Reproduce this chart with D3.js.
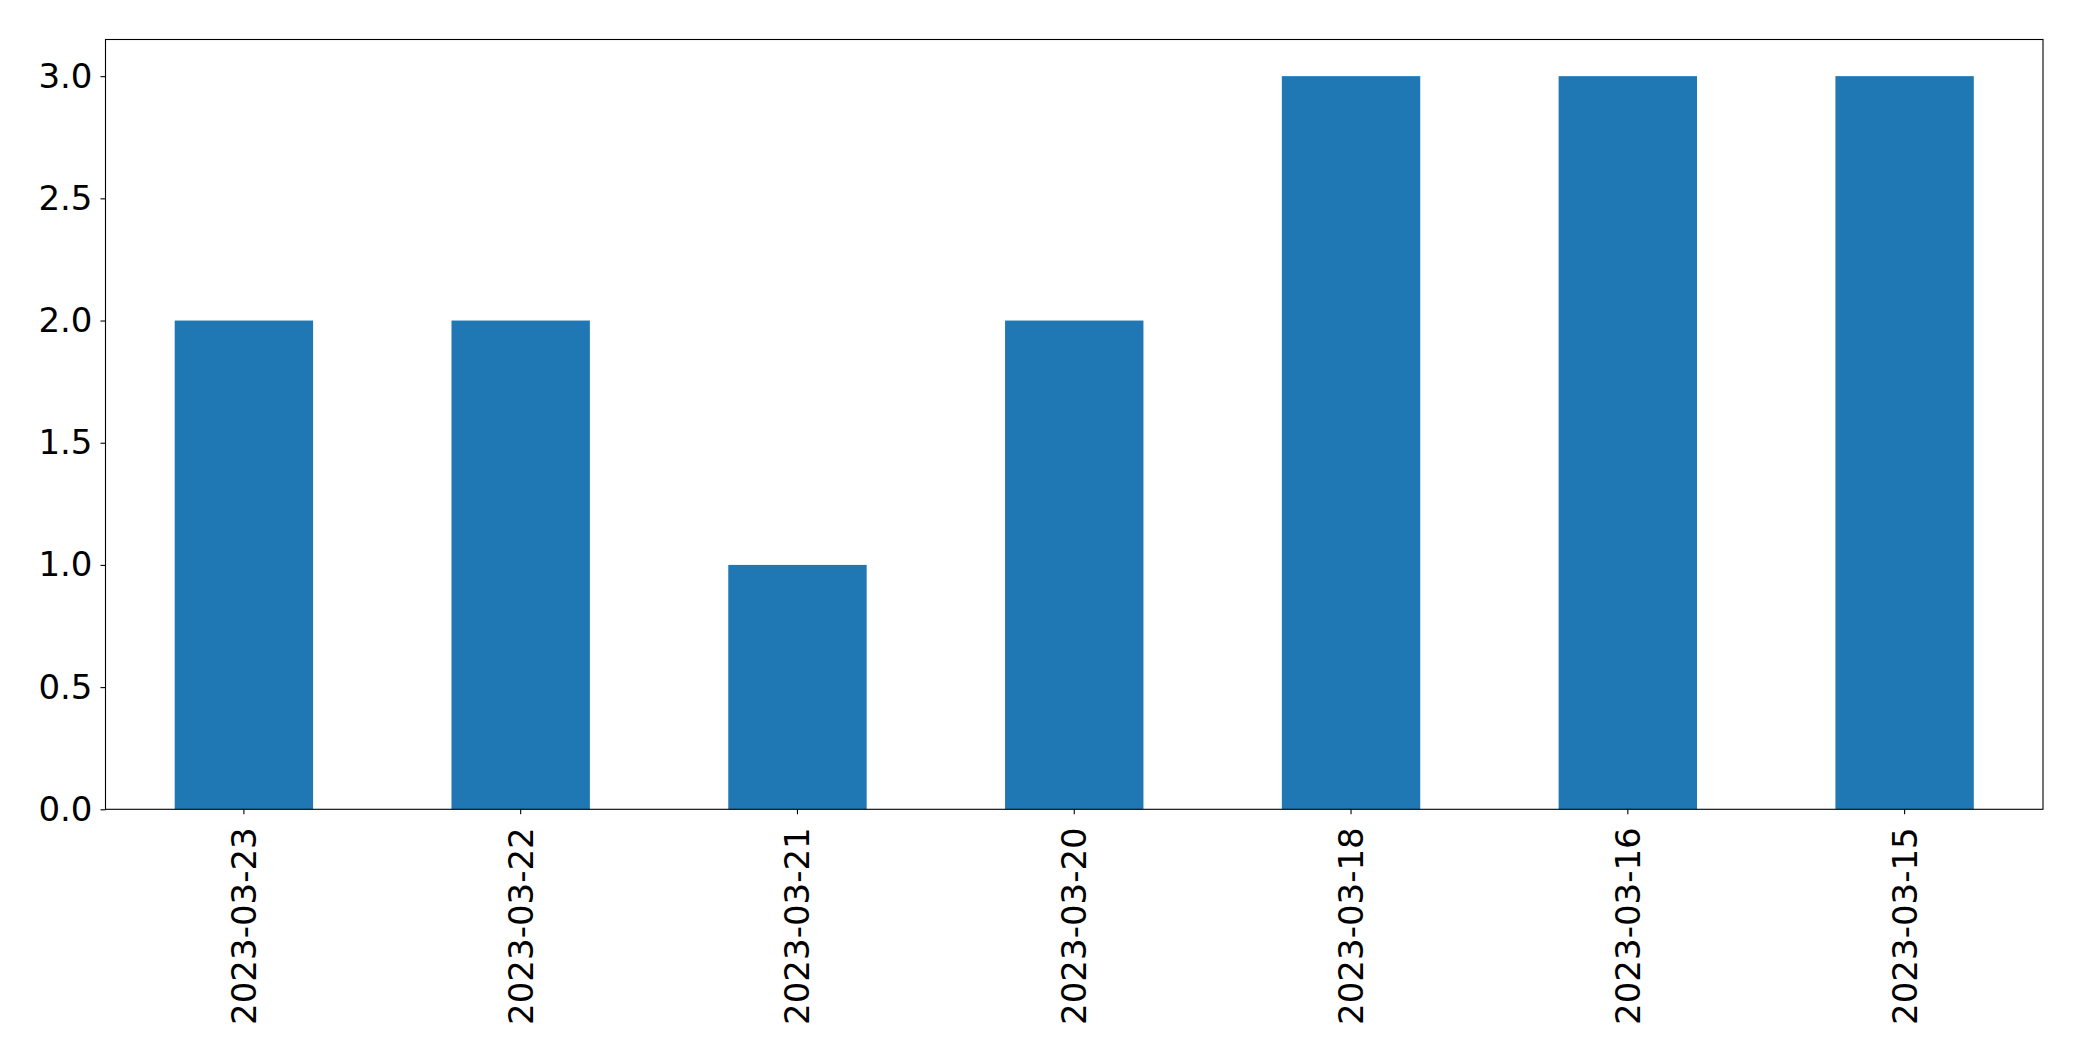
<!DOCTYPE html>
<html>
<head>
<meta charset="utf-8">
<script src="https://cdn.jsdelivr.net/npm/d3@7"></script>
<style>
  html, body { margin: 0; padding: 0; background: #fff; }
  svg { display: block; font-family: "DejaVu Sans", sans-serif; }
</style>
</head>
<body>
<svg id="chart" width="2082" height="1061"></svg>
<script>
const categories = ["2023-03-23", "2023-03-22", "2023-03-21", "2023-03-20", "2023-03-18", "2023-03-16", "2023-03-15"];
const values = [2, 2, 1, 2, 3, 3, 3];
const yTicks = [0.0, 0.5, 1.0, 1.5, 2.0, 2.5, 3.0];

const W = 2082, H = 1061;
const margin = { left: 105.5, right: 2043, top: 39.5, bottom: 809.3 };
const svg = d3.select("#chart");
const fontSize = 34;

const x = d3.scaleBand().domain(categories).range([margin.left, margin.right]).paddingInner(0.5).paddingOuter(0.25);
const y = d3.scaleLinear().domain([0, 3.15]).range([margin.bottom, margin.top]);

// bars
svg.append("g").selectAll("rect").data(values).join("rect")
  .attr("x", (d, i) => x(categories[i]))
  .attr("width", x.bandwidth())
  .attr("y", d => y(d))
  .attr("height", d => y(0) - y(d))
  .attr("fill", "#1f77b4");

// y axis
const yAxis = d3.axisLeft(y).tickValues(yTicks).tickFormat(d3.format(".1f")).tickSize(5).tickPadding(8);
const gy = svg.append("g").attr("transform", `translate(${margin.left},0)`).call(yAxis);
gy.select(".domain").remove();
gy.selectAll(".tick line").attr("stroke", "#000").attr("stroke-width", 1.1);
gy.selectAll(".tick text").attr("font-size", fontSize).attr("font-family", "DejaVu Sans").attr("fill", "#000");

// x axis
const xAxis = d3.axisBottom(x).tickSize(5).tickPadding(0);
const gx = svg.append("g").attr("transform", `translate(0,${margin.bottom})`).call(xAxis);
gx.select(".domain").remove();
gx.selectAll(".tick line").attr("stroke", "#000").attr("stroke-width", 1.1);
gx.selectAll(".tick text")
  .attr("font-size", fontSize).attr("font-family", "DejaVu Sans").attr("fill", "#000")
  .attr("text-anchor", "end")
  .attr("transform", "rotate(-90)")
  .attr("x", -18).attr("y", 0).attr("dy", "0.35em");

// frame
svg.append("rect")
  .attr("x", margin.left).attr("y", margin.top)
  .attr("width", margin.right - margin.left).attr("height", margin.bottom - margin.top)
  .attr("fill", "none").attr("stroke", "#000").attr("stroke-width", 1.1);
</script>
</body>
</html>
